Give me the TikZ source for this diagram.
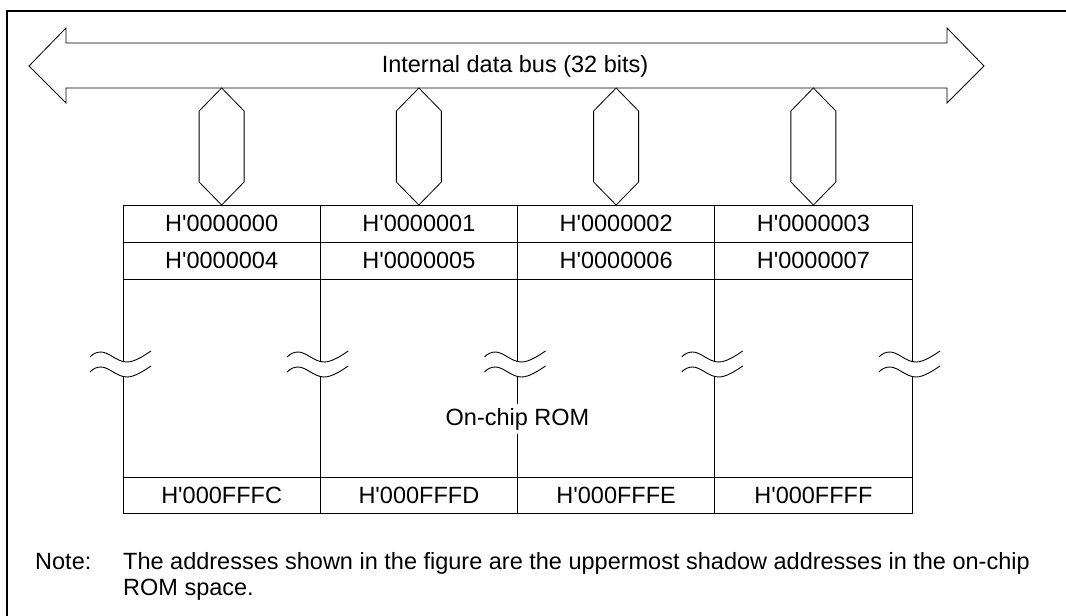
\documentclass[tikz,border=0pt]{standalone}
\usepackage{fontspec}
\setmainfont{Liberation Sans}
\usetikzlibrary{positioning}
\newcommand{\addrfont}{\fontsize{23.5}{27}\selectfont}

\begin{document}
\begin{tikzpicture}[x=1pt,y=-1pt,
  cell/.style={draw,line width=0.9pt,minimum width=197.25pt,minimum height=37pt,
               inner sep=0pt,font=\addrfont},
  grid/.style={line width=0.9pt},
  wave/.style={line width=0.9pt},
  bus/.style={line width=0.8pt,line join=miter},
  frame/.style={line width=2pt},
  lbl/.style={font=\addrfont,inner sep=0pt}
]
\useasboundingbox (0,0) rectangle (1066,616);
% outer frame (only top and left edge visible)
\draw[frame] (7,616) -- (7,11) -- (1066,11);
% internal data bus: double-headed block arrow
\draw[bus] (29,66) -- (66,28) -- (66,43) -- (947,43) -- (947,28) -- (984,66)
  -- (947,103) -- (947,88) -- (66,88) -- (66,103) -- cycle;
\node[lbl,anchor=base] (busl) at (515,72) {Internal data bus (32 bits)};
% one hexagon link per byte lane
\foreach \cx in {221.625,418.875,616.125,813.375}{
  \draw[bus] (\cx,88) -- (\cx+22.5,111) -- (\cx+22.5,182) -- (\cx,205)
    -- (\cx-22.5,182) -- (\cx-22.5,111) -- cycle;
}
% address cells: two top rows and bottom row
\foreach \i/\ta/\tb/\tz in {0/0000000/0000004/000FFFC,1/0000001/0000005/000FFFD,
                            2/0000002/0000006/000FFFE,3/0000003/0000007/000FFFF}{
  \node[cell] (ra\i) at ({221.625+197.25*\i},223.5) {H\textquotesingle\ta};
  \node[cell] (rb\i) at ({221.625+197.25*\i},260.5) {H\textquotesingle\tb};
  \node[cell,minimum height=36pt] (rz\i) at ({221.625+197.25*\i},495) {H\textquotesingle\tz};
}
\node[lbl,inner sep=4pt,anchor=base] (rom) at (517.5,425) {On-chip ROM};
% column lines in the omitted part, with break marks
\foreach \x in {123,320.25,517.5,714.75,912}{
  \draw[grid] (\x,279) -- (\x,361.5);
  \draw[wave] (\x-33,357) .. controls (\x-30,353.5) and (\x-26,352) .. (\x-22,352)
    .. controls (\x-14,352) and (\x-6,362) .. (\x+4,362)
    .. controls (\x+12,362) and (\x+22,355) .. (\x+28,351);
  \draw[wave] (\x-33,372) .. controls (\x-30,368.5) and (\x-26,367) .. (\x-22,367)
    .. controls (\x-14,367) and (\x-6,377) .. (\x+4,377)
    .. controls (\x+12,377) and (\x+22,370) .. (\x+28,366);
}
\foreach \x in {123,320.25,714.75,912}
  \draw[grid] (\x,376.5) -- (\x,477);
% middle line is broken by the label
\draw[grid] (517.5,376.5) -- (rom.north);
\draw[grid] (rom.south) -- (517.5,477);
% note below the figure
\node[lbl,anchor=base west] (notel) at (35,569) {Note:};
\node[lbl,anchor=base west] (note1) at (123,569)
  {The addresses shown in the figure are the uppermost shadow addresses in the on-chip};
\node[lbl,anchor=base west] (note2) at (123,595) {ROM space.};
\end{tikzpicture}
\end{document}
